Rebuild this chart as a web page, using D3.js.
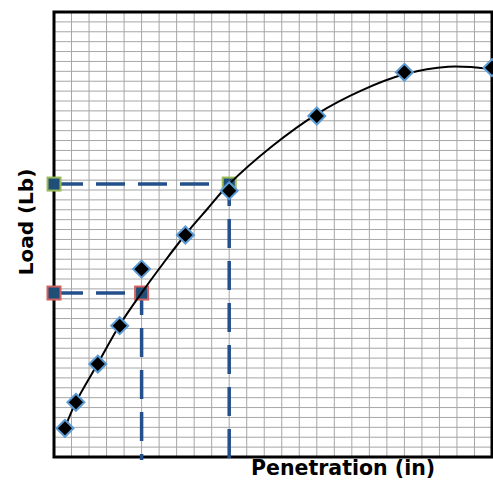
<!DOCTYPE html>
<html>
<head>
<meta charset="utf-8">
<script src="https://cdn.jsdelivr.net/npm/d3@7"></script>
<style>
  html, body { margin: 0; padding: 0; background: #fff; }
  svg { display: block; }
  .axis-label { font-family: "DejaVu Sans", sans-serif; font-weight: bold; fill: #000; }
</style>
</head>
<body>
<div id="chart"></div>
<script>
/* Load vs penetration, with a fitted curve and two readings at 0.1 / 0.2 in */

// measured readings
const penetration = [0.0125, 0.025, 0.05, 0.075, 0.1, 0.15, 0.2, 0.3, 0.4, 0.5];
const load = [290, 553, 940, 1328, 1900, 2245, 2693, 3448, 3890, 3937];

// trend line
const trendX = [0.0125, 0.025, 0.05, 0.075, 0.1, 0.125, 0.15, 0.175, 0.2, 0.25, 0.3, 0.35, 0.4, 0.45, 0.5];
const trendY = [295, 555, 945, 1335, 1660, 1962, 2250, 2508, 2760, 3150, 3468, 3703, 3870, 3946, 3923];

// values
const readX = [0.1, 0.2];
const readY = [1658, 2760];
const readStroke = ['#d0615e', '#9bbb59'];

// axis ranges and grid steps (no tick labels shown)
const xDomain = [0, 0.5];
const yDomain = [0, 4500];
const xCols = 25;
const yRows = 45;

const W = 493, H = 480;
const margin = { top: 12, right: 1, bottom: 23, left: 54 };
const iw = W - margin.left - margin.right;
const ih = H - margin.top - margin.bottom;

const svg = d3.select('#chart').append('svg')
  .attr('width', W)
  .attr('height', H);

const g = svg.append('g')
  .attr('transform', `translate(${margin.left},${margin.top})`);

const x = d3.scaleLinear().domain(xDomain).range([0, iw]);
const y = d3.scaleLinear().domain(yDomain).range([ih, 0]);

// Grid
const xGrid = d3.range(1, xCols).map(i => xDomain[0] + i * (xDomain[1] - xDomain[0]) / xCols);
const yGrid = d3.range(1, yRows).map(i => yDomain[0] + i * (yDomain[1] - yDomain[0]) / yRows);

g.append('g').attr('class', 'grid grid--x')
  .selectAll('line')
  .data(xGrid)
  .join('line')
  .attr('x1', d => x(d)).attr('x2', d => x(d))
  .attr('y1', 0).attr('y2', ih)
  .attr('stroke', '#a6a6a6')
  .attr('stroke-width', 1);

g.append('g').attr('class', 'grid grid--y')
  .selectAll('line')
  .data(yGrid)
  .join('line')
  .attr('x1', 0).attr('x2', iw)
  .attr('y1', d => y(d)).attr('y2', d => y(d))
  .attr('stroke', '#a6a6a6')
  .attr('stroke-width', 1);

// Plot border
g.append('rect')
  .attr('x', 0).attr('y', 0)
  .attr('width', iw).attr('height', ih)
  .attr('fill', 'none')
  .attr('stroke', '#000')
  .attr('stroke-width', 3);

// Dashed guide lines for the readings
const reads = readX.map((v, i) => ({ x: v, y: readY[i], stroke: readStroke[i] }));
const guides = g.append('g').attr('class', 'guides');

guides.selectAll('.guide-h')
  .data(reads)
  .join('line')
  .attr('class', 'guide-h')
  .attr('x1', x(xDomain[0])).attr('x2', d => x(d.x))
  .attr('y1', d => y(d.y)).attr('y2', d => y(d.y))
  .attr('stroke', '#23508a')
  .attr('stroke-width', 3.5)
  .attr('stroke-dasharray', '29,13');

guides.selectAll('.guide-v')
  .data(reads)
  .join('line')
  .attr('class', 'guide-v')
  .attr('x1', d => x(d.x)).attr('x2', d => x(d.x))
  .attr('y1', d => y(d.y)).attr('y2', y(yDomain[0]) + 3)
  .attr('stroke', '#23508a')
  .attr('stroke-width', 3.5)
  .attr('stroke-dasharray', '29,13')
  .attr('stroke-dashoffset', 7);

// Square markers on the axis and on the curve
const squares = reads.flatMap(d => [
  { x: xDomain[0], y: d.y, stroke: d.stroke },
  { x: d.x, y: d.y, stroke: d.stroke }
]);

g.append('g').attr('class', 'read-marks')
  .selectAll('rect')
  .data(squares)
  .join('rect')
  .attr('x', d => x(d.x) - 6.5)
  .attr('y', d => y(d.y) - 6.5)
  .attr('width', 13).attr('height', 13)
  .attr('fill', '#1f4e79')
  .attr('stroke', d => d.stroke)
  .attr('stroke-width', 2);

// Trend curve
const trend = trendX.map((v, i) => [v, trendY[i]]);
g.append('path')
  .datum(trend)
  .attr('class', 'trend')
  .attr('fill', 'none')
  .attr('stroke', '#000')
  .attr('stroke-width', 2)
  .attr('d', d3.line()
    .x(d => x(d[0]))
    .y(d => y(d[1]))
    .curve(d3.curveCatmullRom.alpha(0.5)));

// Measured points (diamonds)
const pts = penetration.map((v, i) => ({ x: v, y: load[i] }));
const r = 8.5;
g.append('g').attr('class', 'points')
  .selectAll('path')
  .data(pts)
  .join('path')
  .attr('transform', d => `translate(${x(d.x)},${y(d.y)})`)
  .attr('d', `M0,${-r}L${r},0L0,${r}L${-r},0Z`)
  .attr('fill', '#000')
  .attr('stroke', '#5b9bd5')
  .attr('stroke-width', 2);

// Axis labels
svg.append('text')
  .attr('class', 'axis-label')
  .attr('text-anchor', 'middle')
  .attr('x', margin.left + iw * 0.66)
  .attr('y', 475)
  .style('font-size', '20.5px')
  .text('Penetration (in)');

svg.append('text')
  .attr('class', 'axis-label')
  .attr('text-anchor', 'middle')
  .attr('transform', 'rotate(-90)')
  .attr('x', -222)
  .attr('y', 32.5)
  .style('font-size', '20px')
  .text('Load (Lb)');
</script>
</body>
</html>
